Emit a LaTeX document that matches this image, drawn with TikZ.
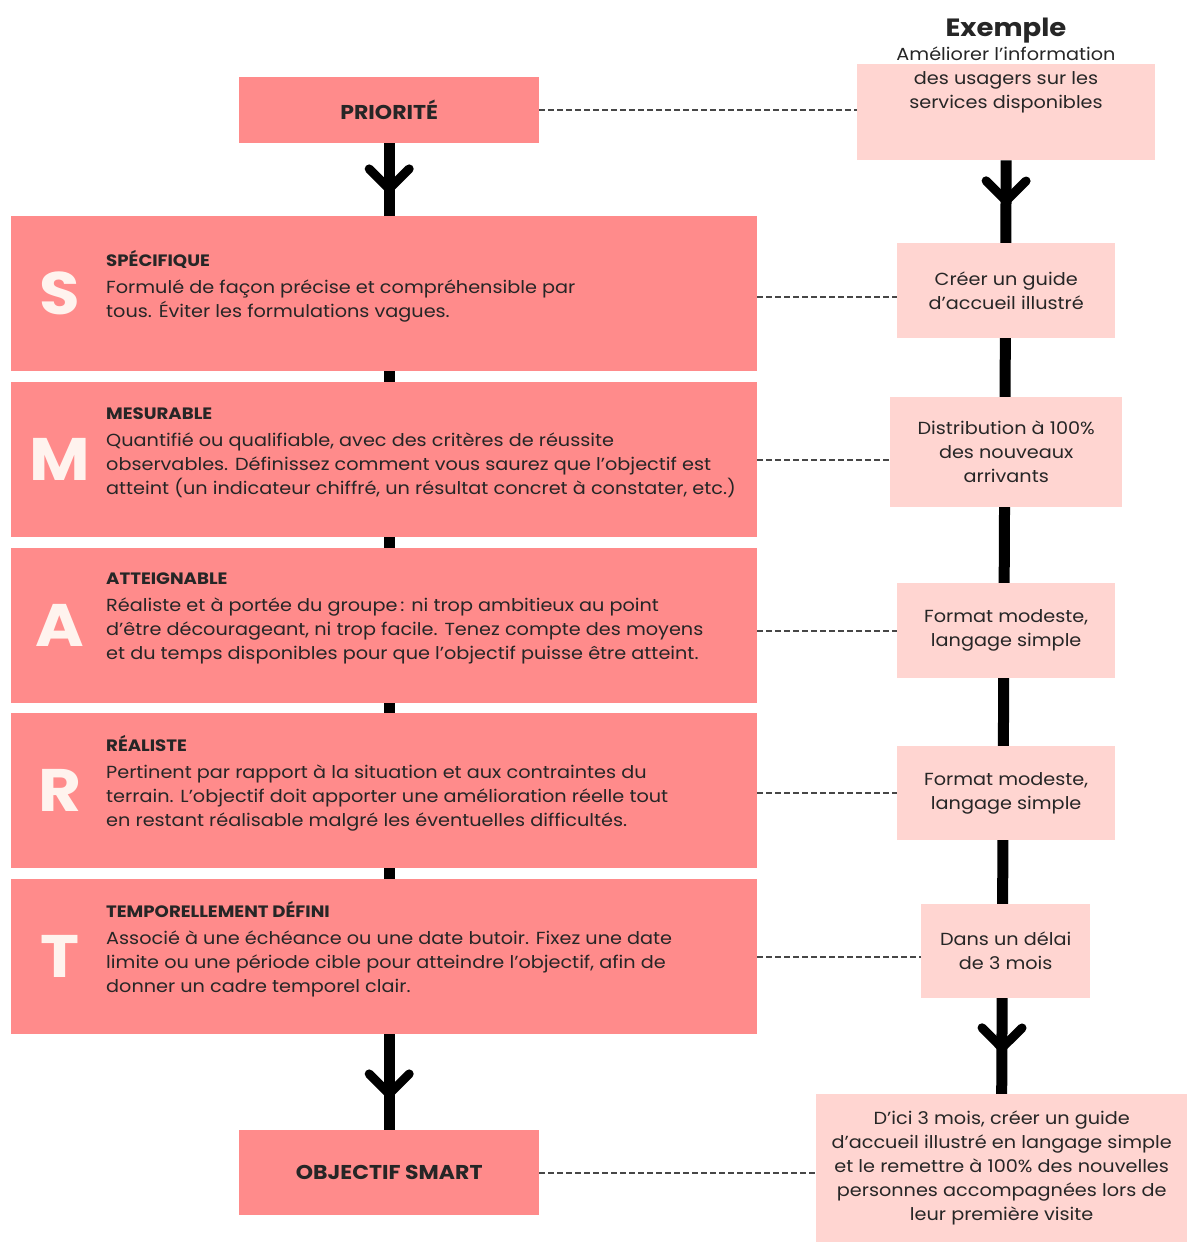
\documentclass[tikz,border=0pt]{standalone}
\usepackage{fontspec}
\setmainfont{Poppins}[FakeStretch=1.1]
\usetikzlibrary{positioning,arrows.meta,calc,decorations.markings,backgrounds}
\definecolor{smartred}{HTML}{FF8B8B}
\definecolor{smartpink}{HTML}{FFD5D1}
\definecolor{inkgray}{HTML}{262626}
\definecolor{letterwhite}{HTML}{FFF3EE}
\tikzset{
  redbox/.style={fill=smartred, inner sep=0pt, anchor=north west},
  pinkbox/.style={fill=smartpink, inner sep=0pt, anchor=north west, align=center,
    text=inkgray, font=\fontsize{17.5}{24}\selectfont},
  letter/.style={text=letterwhite, font=\fontsize{60}{60}\selectfont\bfseries},
  desc/.style={anchor=west, inner sep=0pt, align=left, text=inkgray,
    font=\fontsize{17.5}{24}\selectfont},
  headline/.style={text=inkgray, font=\fontsize{20}{24}\selectfont\bfseries},
  link/.style={draw=inkgray!85, line width=2pt, dash pattern=on 6pt off 3pt},
}
\newcommand{\chev}{Straight Barb[length=20pt, width=40pt, line width=9pt, round]}
\newcommand{\ttl}[1]{{\fontsize{16.5}{24}\selectfont\bfseries #1}\\[3pt]}

\begin{document}
\begin{tikzpicture}[x=1pt, y=-1pt]

	\useasboundingbox (0,0) rectangle (1188,1243);

	% priority and final goal
	\node[redbox, minimum width=300pt, minimum height=66pt] (prio) at (239,77) {};
	\node[headline] at (prio.center) {PRIORITÉ};
	\node[redbox, minimum width=300pt, minimum height=85pt] (goal) at (239,1130) {};
	\node[headline] at (goal.center) {OBJECTIF SMART};

	% the five criteria
	\foreach \nm/\ltr/\top/\txt in {
		s/S/216/{\ttl{SPÉCIFIQUE}Formulé de façon précise et compréhensible par\\tous. Éviter les formulations vagues.},
		m/M/382/{\ttl{MESURABLE}Quantifié ou qualifiable, avec des critères de réussite\\observables. Définissez comment vous saurez que l’objectif est\\atteint (un indicateur chiffré, un résultat concret à constater, etc.)},
		a/A/548/{\ttl{ATTEIGNABLE}Réaliste et à portée du groupe\,: ni trop ambitieux au point\\d’être décourageant, ni trop facile. Tenez compte des moyens\\et du temps disponibles pour que l’objectif puisse être atteint.},
		r/R/713/{\ttl{RÉALISTE}Pertinent par rapport à la situation et aux contraintes du\\terrain. L’objectif doit apporter une amélioration réelle tout\\en restant réalisable malgré les éventuelles difficultés.},
		t/T/879/{\ttl{TEMPORELLEMENT DÉFINI}Associé à une échéance ou une date butoir. Fixez une date\\limite ou une période cible pour atteindre l’objectif, afin de\\donner un cadre temporel clair.}}
	{
		\node[redbox, minimum width=746pt, minimum height=155pt] (\nm box) at (11,\top) {};
		\node[letter] (\nm l) at ($(\nm box.west)+(49,0)$) {\ltr};
		\node[desc] (\nm txt) at ($(\nm box.west)+(95,-7)$) {\txt};
	}

	% example column
	\node[pinkbox, minimum width=298pt, minimum height=96pt] (ex0) at (857,64) {};
	\node[text=inkgray, align=center, font=\fontsize{17.5}{24}\selectfont] (extitle) at (1006,66)
		{{\fontsize{25}{30}\selectfont\bfseries Exemple}\\[0pt]Améliorer l’information\\des usagers sur les\\services disponibles};
	\node[pinkbox, minimum width=218pt, minimum height=95pt] (ex1) at (897,243) {Créer un guide\\d’accueil illustré};
	\node[pinkbox, minimum width=232pt, minimum height=110pt] (ex2) at (890,397) {Distribution à 100\%\\des nouveaux\\arrivants};
	\node[pinkbox, minimum width=218pt, minimum height=95pt] (ex3) at (897,583) {Format modeste,\\langage simple};
	\node[pinkbox, minimum width=218pt, minimum height=94pt] (ex4) at (897,746) {Format modeste,\\langage simple};
	\node[pinkbox, minimum width=169pt, minimum height=94pt] (ex5) at (921,904) {Dans un délai\\de 3 mois};
	\node[pinkbox, minimum width=371pt, minimum height=148pt] (exgoal) at (816,1094)
		{D’ici 3 mois, créer un guide\\d’accueil illustré en langage simple\\et le remettre à 100\% des nouvelles\\personnes accompagnées lors de\\leur première visite};

	% spines behind the boxes
	\begin{pgfonlayer}{background}
		\draw[line width=11pt, postaction={decorate}, decoration={markings,
			mark=at position 50pt with {\arrow{\chev}},
			mark=at position 955pt with {\arrow{\chev}}}]
			(prio.south) -- (goal.north);
		\draw[line width=11pt, postaction={decorate}, decoration={markings,
			mark=at position 45pt with {\arrow{\chev}},
			mark=at position 892pt with {\arrow{\chev}}}]
			(ex0.south) -- (exgoal.north);
	\end{pgfonlayer}

	% dashed links
	\draw[link] (prio.east) -- (ex0.west |- prio.east);
	\draw[link] ($(sbox.east)+(0,3)$) -- (ex1.west |- {$(sbox.east)+(0,3)$});
	\draw[link] (mbox.east) -- (ex2.west |- mbox.east);
	\draw[link] (abox.east |- ex3.west) -- (ex3.west);
	\draw[link] (rbox.east |- ex4.west) -- (ex4.west);
	\draw[link] (tbox.east) -- (ex5.west |- tbox.east);
	\draw[link] (goal.east) -- (exgoal.west |- goal.east);

\end{tikzpicture}
\end{document}
